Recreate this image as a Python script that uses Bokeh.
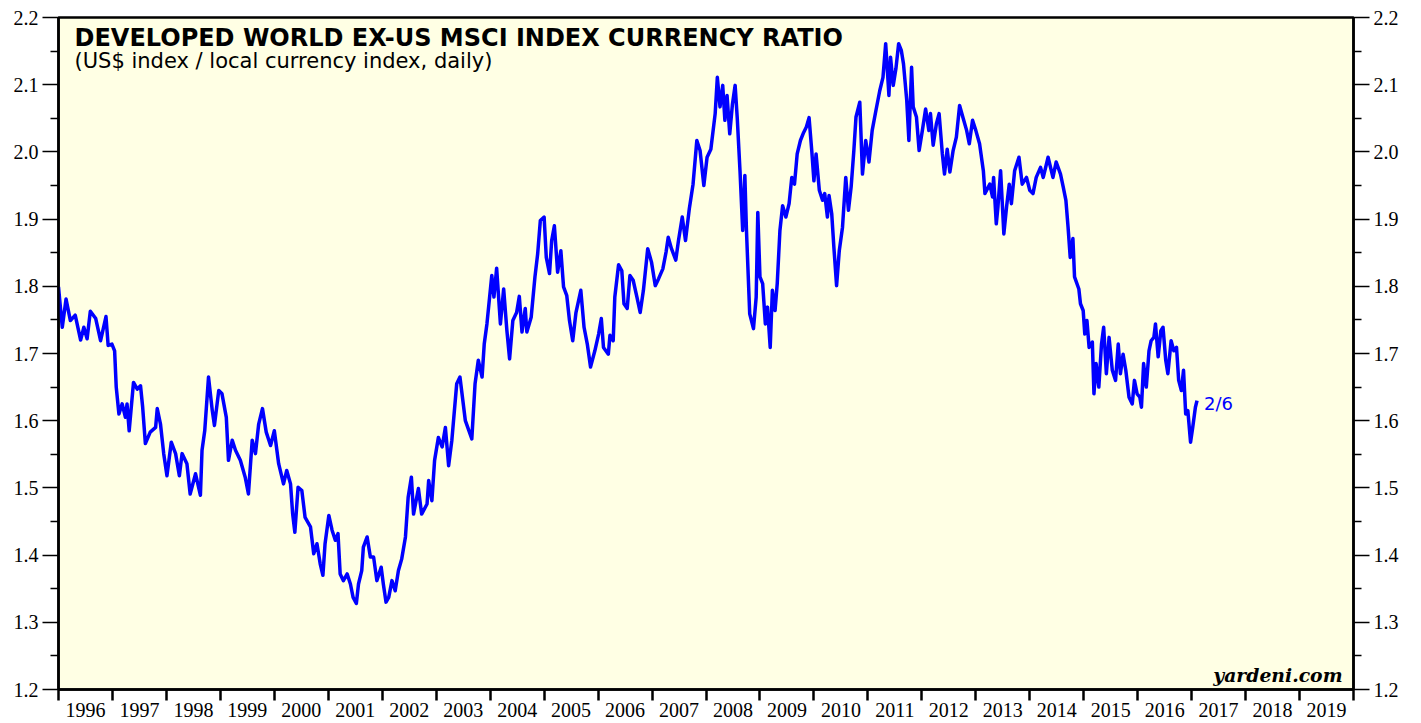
from bokeh.plotting import figure
from bokeh.models import FixedTicker, LinearAxis, Label, Range1d
from bokeh.embed import file_html
from bokeh.resources import INLINE

# ---- data (decimal year, ratio) ----
dates = [
    1996.00, 1996.07, 1996.14, 1996.22, 1996.31, 1996.41, 1996.47, 1996.53, 1996.59, 1996.69,
    1996.78, 1996.88, 1996.92, 1996.99, 1997.04, 1997.07, 1997.12, 1997.18, 1997.24, 1997.27,
    1997.31, 1997.39, 1997.46, 1997.52, 1997.56, 1997.61, 1997.70, 1997.80, 1997.83, 1997.89,
    1997.95, 1998.01, 1998.09, 1998.17, 1998.24, 1998.29, 1998.38, 1998.44, 1998.54, 1998.63,
    1998.66, 1998.71, 1998.78, 1998.85, 1998.89, 1998.97, 1999.03, 1999.11, 1999.15, 1999.22,
    1999.28, 1999.37, 1999.46, 1999.52, 1999.59, 1999.65, 1999.71, 1999.78, 1999.85, 1999.93,
    2000.00, 2000.08, 2000.17, 2000.23, 2000.30, 2000.34, 2000.38, 2000.44, 2000.51, 2000.57,
    2000.67, 2000.73, 2000.79, 2000.85, 2000.90, 2000.94, 2001.01, 2001.07, 2001.13, 2001.18,
    2001.22, 2001.28, 2001.35, 2001.41, 2001.46, 2001.52, 2001.56, 2001.62, 2001.65, 2001.72,
    2001.78, 2001.84, 2001.90, 2001.98, 2002.02, 2002.07, 2002.12, 2002.18, 2002.24, 2002.30,
    2002.36, 2002.43, 2002.48, 2002.54, 2002.58, 2002.67, 2002.73, 2002.83, 2002.86, 2002.92,
    2002.97, 2003.04, 2003.11, 2003.17, 2003.23, 2003.29, 2003.38, 2003.44, 2003.54, 2003.66,
    2003.72, 2003.78, 2003.85, 2003.89, 2003.94, 2004.03, 2004.07, 2004.12, 2004.19, 2004.25,
    2004.31, 2004.36, 2004.42, 2004.49, 2004.54, 2004.59, 2004.65, 2004.68, 2004.76, 2004.83,
    2004.88, 2004.93, 2005.00, 2005.04, 2005.10, 2005.14, 2005.19, 2005.25, 2005.31, 2005.36,
    2005.42, 2005.47, 2005.53, 2005.59, 2005.68, 2005.74, 2005.80, 2005.86, 2005.94, 2006.01,
    2006.06, 2006.10, 2006.19, 2006.22, 2006.28, 2006.31, 2006.38, 2006.44, 2006.48, 2006.54,
    2006.59, 2006.65, 2006.72, 2006.78, 2006.84, 2006.92, 2006.99, 2007.06, 2007.12, 2007.20,
    2007.26, 2007.30, 2007.36, 2007.44, 2007.49, 2007.56, 2007.62, 2007.69, 2007.76, 2007.83,
    2007.89, 2007.96, 2008.02, 2008.09, 2008.17, 2008.21, 2008.26, 2008.31, 2008.35, 2008.39,
    2008.44, 2008.49, 2008.54, 2008.58, 2008.63, 2008.68, 2008.72, 2008.75, 2008.81, 2008.88,
    2008.93, 2008.96, 2009.00, 2009.05, 2009.10, 2009.14, 2009.19, 2009.23, 2009.28, 2009.32,
    2009.37, 2009.42, 2009.48, 2009.54, 2009.59, 2009.64, 2009.69, 2009.75, 2009.81, 2009.86,
    2009.91, 2009.96, 2010.00, 2010.04, 2010.10, 2010.16, 2010.20, 2010.25, 2010.28, 2010.33,
    2010.37, 2010.42, 2010.47, 2010.53, 2010.59, 2010.64, 2010.69, 2010.74, 2010.78, 2010.85,
    2010.90, 2010.96, 2011.02, 2011.08, 2011.15, 2011.22, 2011.28, 2011.33, 2011.39, 2011.42,
    2011.47, 2011.52, 2011.57, 2011.62, 2011.66, 2011.72, 2011.76, 2011.81, 2011.84, 2011.90,
    2011.95, 2012.01, 2012.07, 2012.13, 2012.16, 2012.21, 2012.27, 2012.32, 2012.38, 2012.42,
    2012.47, 2012.52, 2012.58, 2012.64, 2012.70, 2012.77, 2012.83, 2012.88, 2012.94, 2013.00,
    2013.07, 2013.14, 2013.17, 2013.26, 2013.31, 2013.33, 2013.38, 2013.41, 2013.46, 2013.52,
    2013.57, 2013.62, 2013.66, 2013.72, 2013.80, 2013.86, 2013.94, 2014.00, 2014.06, 2014.12,
    2014.20, 2014.25, 2014.34, 2014.43, 2014.49, 2014.57, 2014.62, 2014.67, 2014.71, 2014.75,
    2014.80, 2014.83, 2014.91, 2014.94, 2014.99, 2015.02, 2015.06, 2015.10, 2015.16, 2015.19,
    2015.23, 2015.28, 2015.33, 2015.37, 2015.42, 2015.47, 2015.53, 2015.59, 2015.64, 2015.68,
    2015.73, 2015.78, 2015.84, 2015.90, 2015.94, 2015.99, 2016.04, 2016.07, 2016.11, 2016.16,
    2016.21, 2016.25, 2016.30, 2016.33, 2016.38, 2016.43, 2016.47, 2016.52, 2016.56, 2016.62,
    2016.67, 2016.72, 2016.76, 2016.81, 2016.85, 2016.89, 2016.93, 2016.98, 2017.02, 2017.07,
    2017.10,
]
ratio = [
    1.799, 1.739, 1.781, 1.749, 1.757, 1.720, 1.739, 1.722, 1.763, 1.752,
    1.719, 1.755, 1.712, 1.714, 1.704, 1.650, 1.610, 1.625, 1.605, 1.625,
    1.585, 1.657, 1.647, 1.652, 1.620, 1.566, 1.583, 1.590, 1.618, 1.595,
    1.551, 1.518, 1.568, 1.551, 1.518, 1.551, 1.536, 1.491, 1.521, 1.489,
    1.556, 1.585, 1.665, 1.615, 1.593, 1.645, 1.640, 1.605, 1.541, 1.571,
    1.556, 1.541, 1.516, 1.491, 1.571, 1.551, 1.595, 1.618, 1.583, 1.563,
    1.585, 1.536, 1.506, 1.526, 1.506, 1.461, 1.434, 1.501, 1.496, 1.456,
    1.442, 1.402, 1.417, 1.387, 1.370, 1.417, 1.459, 1.437, 1.422, 1.432,
    1.372, 1.362, 1.372, 1.357, 1.337, 1.328, 1.357, 1.377, 1.412, 1.427,
    1.397, 1.397, 1.362, 1.382, 1.357, 1.330, 1.337, 1.362, 1.347, 1.377,
    1.394, 1.427, 1.486, 1.516, 1.461, 1.499, 1.461, 1.476, 1.511, 1.481,
    1.541, 1.575, 1.561, 1.590, 1.533, 1.571, 1.655, 1.665, 1.600, 1.573,
    1.655, 1.690, 1.665, 1.714, 1.744, 1.816, 1.784, 1.827, 1.744, 1.796,
    1.734, 1.692, 1.749, 1.761, 1.785, 1.732, 1.767, 1.732, 1.754, 1.814,
    1.848, 1.898, 1.903, 1.843, 1.819, 1.868, 1.890, 1.821, 1.853, 1.799,
    1.786, 1.749, 1.719, 1.761, 1.794, 1.739, 1.714, 1.680, 1.704, 1.729,
    1.752, 1.709, 1.699, 1.727, 1.719, 1.784, 1.832, 1.823, 1.774, 1.767,
    1.816, 1.809, 1.784, 1.761, 1.794, 1.856, 1.836, 1.801, 1.811, 1.826,
    1.851, 1.873, 1.856, 1.839, 1.868, 1.903, 1.868, 1.915, 1.952, 2.017,
    2.002, 1.950, 1.992, 2.004, 2.057, 2.111, 2.067, 2.099, 2.047, 2.084,
    2.027, 2.071, 2.099, 2.049, 1.972, 1.883, 1.965, 1.883, 1.759, 1.737,
    1.784, 1.910, 1.814, 1.804, 1.744, 1.769, 1.709, 1.794, 1.764, 1.804,
    1.883, 1.920, 1.903, 1.923, 1.962, 1.952, 1.997, 2.017, 2.029, 2.037,
    2.051, 2.002, 1.957, 1.997, 1.943, 1.928, 1.938, 1.903, 1.935, 1.908,
    1.858, 1.801, 1.853, 1.888, 1.962, 1.913, 1.948, 2.002, 2.052, 2.074,
    1.967, 2.017, 1.985, 2.032, 2.062, 2.091, 2.111, 2.161, 2.084, 2.141,
    2.099, 2.124, 2.161, 2.151, 2.131, 2.077, 2.017, 2.126, 2.067, 2.052,
    2.002, 2.032, 2.064, 2.032, 2.057, 2.010, 2.042, 2.057, 1.997, 1.967,
    2.004, 1.970, 2.002, 2.022, 2.069, 2.049, 2.032, 2.012, 2.047, 2.032,
    2.012, 1.972, 1.938, 1.952, 1.933, 1.962, 1.893, 1.918, 1.972, 1.878,
    1.918, 1.952, 1.923, 1.972, 1.992, 1.952, 1.962, 1.943, 1.938, 1.962,
    1.977, 1.962, 1.992, 1.962, 1.985, 1.967, 1.948, 1.928, 1.888, 1.843,
    1.871, 1.814, 1.796, 1.774, 1.764, 1.729, 1.749, 1.709, 1.717, 1.640,
    1.685, 1.650, 1.714, 1.739, 1.670, 1.724, 1.675, 1.660, 1.714, 1.670,
    1.699, 1.675, 1.635, 1.625, 1.660, 1.640, 1.635, 1.620, 1.685, 1.650,
    1.704, 1.719, 1.724, 1.744, 1.695, 1.734, 1.739, 1.690, 1.670, 1.719,
    1.704, 1.709, 1.660, 1.645, 1.675, 1.610, 1.615, 1.568, 1.590, 1.620,
    1.630,
]

year_bounds = list(range(1996, 2021))
year_labels = [str(y) for y in range(1996, 2020)]
year_mids = [y + 0.5 for y in range(1996, 2020)]
y_major = [1.2, 1.3, 1.4, 1.5, 1.6, 1.7, 1.8, 1.9, 2.0, 2.1, 2.2]
y_minor = [1.25, 1.35, 1.45, 1.55, 1.65, 1.75, 1.85, 1.95, 2.05, 2.15]
y_labels = {v: f"{v:.1f}" for v in y_major}

title_text = "DEVELOPED WORLD EX-US MSCI INDEX CURRENCY RATIO"
subtitle_text = "(US$ index / local currency index, daily)"
end_label = "2/6"
end_value = 1.625
source_text = "yardeni.com"

SERIF = "Liberation Serif"
SANS = "DejaVu Sans"

p = figure(
    width=1421, height=723,
    x_range=Range1d(1996, 2020), y_range=Range1d(1.2, 2.2),
    output_backend="svg", toolbar_location=None,
    min_border_left=58, min_border_right=68, min_border_top=17, min_border_bottom=34,
    background_fill_color="#FFFFE4", border_fill_color="white",
    outline_line_color="black", outline_line_width=2.5,
)
p.grid.visible = False

# bottom axis: labels centred in each year, year-boundary marks as minor ticks
xa = p.xaxis[0]
xa.ticker = FixedTicker(ticks=year_mids, minor_ticks=year_bounds)
xa.major_label_overrides = {m: s for m, s in zip(year_mids, year_labels)}
xa.major_tick_out = 0
xa.major_tick_in = 0
xa.major_tick_line_color = None
xa.minor_tick_out = 11
xa.minor_tick_in = 0
xa.minor_tick_line_width = 2.5
xa.minor_tick_line_color = "black"
xa.major_label_standoff = 2
xa.major_label_text_font = SERIF
xa.major_label_text_font_size = "20px"
xa.major_label_text_color = "black"
xa.axis_line_width = 2.5


def style_y(ax):
    ax.ticker = FixedTicker(ticks=y_major, minor_ticks=y_minor)
    ax.major_label_overrides = y_labels
    ax.major_tick_out = 16
    ax.major_tick_in = 0
    ax.minor_tick_out = 8
    ax.minor_tick_in = 0
    ax.major_tick_line_width = 1.5
    ax.minor_tick_line_width = 1.5
    ax.axis_line_width = 2.5
    ax.major_label_standoff = 4
    ax.major_label_text_font = SERIF
    ax.major_label_text_font_size = "20px"
    ax.major_label_text_color = "black"


style_y(p.yaxis[0])
ra = LinearAxis()
style_y(ra)
p.add_layout(ra, "right")

p.line(dates, ratio, line_color="#0000FF", line_width=3.5, line_join="round")

p.add_layout(Label(x=16, y=651.5, x_units="screen", y_units="screen", text=title_text,
                   text_font=SANS, text_font_style="bold", text_font_size="24px",
                   text_baseline="alphabetic", text_color="black"))
p.add_layout(Label(x=16, y=628.5, x_units="screen", y_units="screen", text=subtitle_text,
                   text_font=SANS, text_font_size="21px",
                   text_baseline="alphabetic", text_color="black"))
p.add_layout(Label(x=dates[-1], y=end_value, x_offset=7, text=end_label,
                   text_font=SANS, text_font_size="18px", text_baseline="alphabetic",
                   text_color="#0000FF"))
p.add_layout(Label(x=1284, y=15, x_units="screen", y_units="screen", text=source_text,
                   text_font="DejaVu Serif", text_font_style="bold italic", text_font_size="18.8px",
                   text_align="right", text_baseline="alphabetic", text_color="black"))

open("out.html", "w").write(file_html(p, INLINE))
